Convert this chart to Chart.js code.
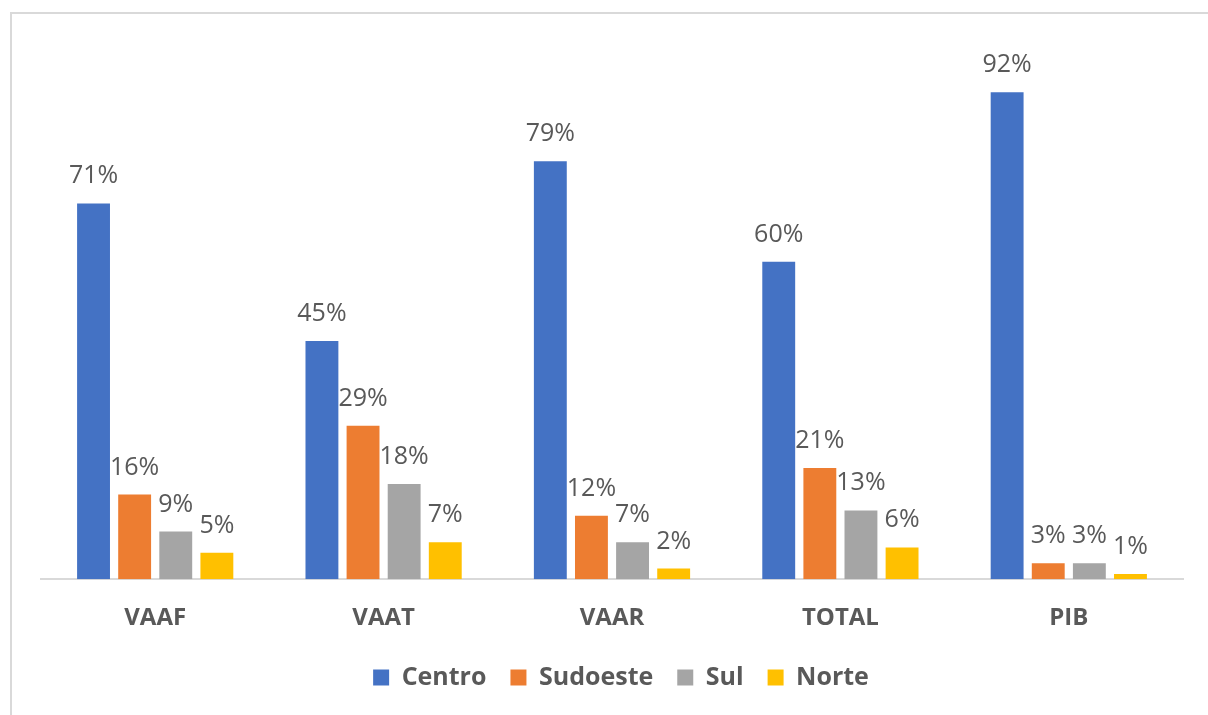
<!DOCTYPE html>
<html>
<head>
<meta charset="utf-8">
<script src="https://cdn.jsdelivr.net/npm/chart.js@4.4.1/dist/chart.umd.min.js"></script>
<style>
  html, body { margin: 0; padding: 0; background: #fff; }
  #wrap { position: relative; width: 1208px; height: 715px; overflow: hidden; }
  #frame { position: absolute; left: 10px; top: 12px; width: 1220px; height: 720px;
           border-top: 2px solid #d9d9d9; border-left: 2px solid #d9d9d9; }
  #grafico { position: absolute; left: 0; top: 0; }
</style>
</head>
<body>
<div id="wrap">
  <div id="frame"></div>
  <canvas id="grafico" width="1208" height="715"></canvas>
</div>
<script>
// categorias e valores (%) por região
var categorias = ["VAAF", "VAAT", "VAAR", "TOTAL", "PIB"];
var centro   = [71, 45, 79, 60, 92];
var sudoeste = [16, 29, 12, 21, 3];
var sul      = [9, 18, 7, 13, 3];
var norte    = [5, 7, 2, 6, 1];

var fonte = "'Open Sans', 'Noto Sans', sans-serif";

// escreve o valor em cima de cada barra
var rotulosBarras = {
  id: 'rotulosBarras',
  afterDatasetsDraw: function(chart) {
    var ctx = chart.ctx;
    ctx.save();
    ctx.font = "25px " + fonte;
    ctx.fillStyle = "#595959";
    ctx.textAlign = "center";
    ctx.textBaseline = "alphabetic";
    chart.data.datasets.forEach(function(ds, i) {
      chart.getDatasetMeta(i).data.forEach(function(bar, j) {
        ctx.fillText(ds.data[j] + "%", bar.x, bar.y - 20);
      });
    });
    ctx.restore();
  }
};

// sobe um pouco a legenda, mais perto dos rótulos do eixo
var subirLegenda = {
  id: 'subirLegenda',
  afterLayout: function(chart) {
    chart.legend.top -= 17;
    chart.legend.bottom -= 17;
    chart.legend.left += 9;
    chart.legend.right += 9;
  }
};

function serie(nome, valores, cor) {
  return {
    label: nome,
    data: valores,
    backgroundColor: cor,
    borderWidth: 0,
    barPercentage: 0.8,
    categoryPercentage: 0.72
  };
}

new Chart(document.getElementById("grafico"), {
  type: 'bar',
  data: {
    labels: categorias,
    datasets: [
      serie("Centro", centro, "#4472C4"),
      serie("Sudoeste", sudoeste, "#ED7D31"),
      serie("Sul", sul, "#A5A5A5"),
      serie("Norte", norte, "#FFC000")
    ]
  },
  options: {
    responsive: false,
    animation: false,
    layout: { padding: { left: 41, right: 25, top: 50, bottom: -2 } },
    scales: {
      x: {
        grid: { display: false, drawTicks: false },
        border: { display: true, color: "#d9d9d9", width: 2 },
        ticks: { color: "#595959", padding: 25, font: { family: fonte, size: 24, weight: 'bold' } }
      },
      y: { display: false, min: 0, max: 100 }
    },
    plugins: {
      tooltip: { enabled: false },
      legend: {
        position: 'bottom',
        labels: {
          color: "#595959",
          boxWidth: 16,
          boxHeight: 16,
          padding: 24,
          font: { family: fonte, size: 25, weight: 'bold' }
        }
      }
    }
  },
  plugins: [rotulosBarras, subirLegenda]
});
</script>
</body>
</html>
